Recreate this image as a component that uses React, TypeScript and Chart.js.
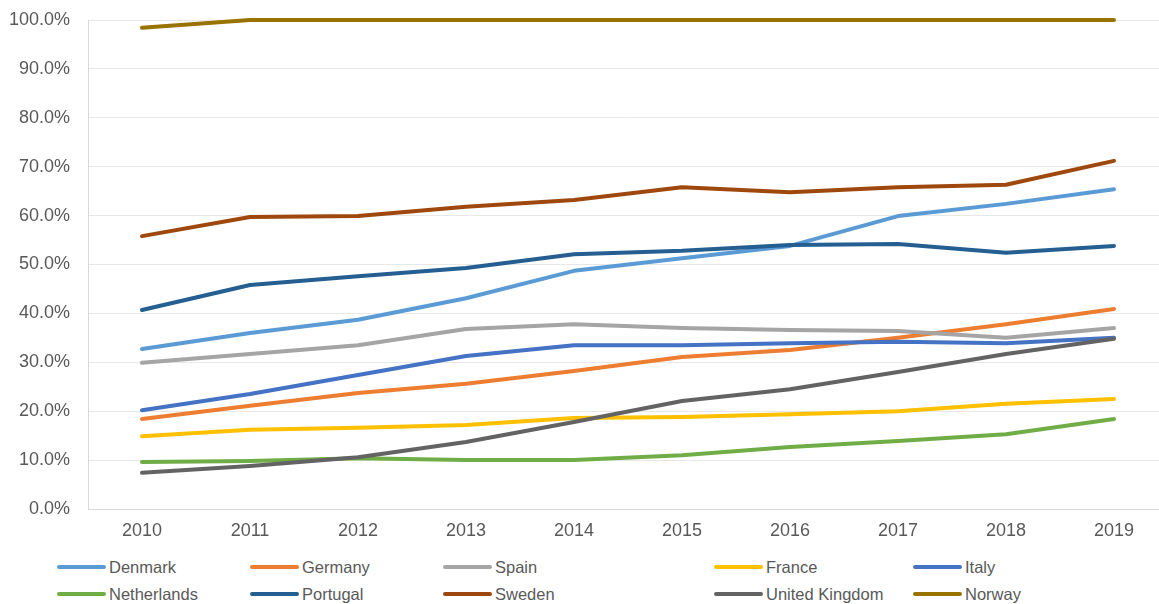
import React, { useEffect, useRef } from "react";
import { Chart, registerables } from "chart.js";

Chart.register(...registerables);

const years = ["2010", "2011", "2012", "2013", "2014", "2015", "2016", "2017", "2018", "2019"];

const denmark = [32.7, 36.0, 38.7, 43.1, 48.7, 51.3, 53.8, 59.9, 62.4, 65.4];
const germany = [18.4, 21.1, 23.7, 25.6, 28.2, 31.1, 32.5, 35.0, 37.8, 40.9];
const spain = [29.9, 31.7, 33.5, 36.8, 37.8, 37.0, 36.6, 36.4, 35.0, 37.0];
const france = [14.9, 16.2, 16.6, 17.2, 18.6, 18.8, 19.4, 20.0, 21.5, 22.5];
const italy = [20.2, 23.5, 27.4, 31.3, 33.5, 33.5, 33.9, 34.2, 33.9, 35.0];
const netherlands = [9.6, 9.8, 10.4, 10.0, 10.0, 11.0, 12.7, 13.9, 15.3, 18.4];
const portugal = [40.7, 45.8, 47.6, 49.3, 52.1, 52.8, 54.0, 54.2, 52.4, 53.8];
const sweden = [55.8, 59.7, 59.9, 61.8, 63.2, 65.8, 64.8, 65.8, 66.3, 71.2];
const unitedKingdom = [7.4, 8.8, 10.6, 13.7, 17.8, 22.1, 24.5, 28.0, 31.7, 34.8];
const norway = [98.4, 100, 100, 100, 100, 100, 100, 100, 100, 100];

const seriesNames = [
  "Denmark",
  "Germany",
  "Spain",
  "France",
  "Italy",
  "Netherlands",
  "Portugal",
  "Sweden",
  "United Kingdom",
  "Norway",
];
const seriesValues = [denmark, germany, spain, france, italy, netherlands, portugal, sweden, unitedKingdom, norway];
const seriesColors = [
  "#5B9BD5",
  "#ED7D31",
  "#A5A5A5",
  "#FFC000",
  "#4472C4",
  "#70AD47",
  "#255E91",
  "#9E480E",
  "#636363",
  "#997300",
];

const yTickMin = 0;
const yTickMax = 100;
const yTickStep = 10;

const FONT = "'Liberation Sans', Arial, sans-serif";
const TEXT_COLOR = "#595959";

const legendColumns = [57, 250, 443, 714, 913];
const legendRows = [557, 584];

export default function App() {
  const canvasRef = useRef<HTMLCanvasElement | null>(null);

  useEffect(() => {
    if (!canvasRef.current) return;
    const n = seriesNames.length;
    const chart = new Chart(canvasRef.current, {
      type: "line",
      data: {
        labels: years,
        datasets: seriesNames.map((name, i) => ({
          label: name,
          data: seriesValues[i],
          borderColor: seriesColors[i],
          backgroundColor: seriesColors[i],
          borderWidth: 4,
          pointRadius: 0,
          pointHoverRadius: 0,
          borderCapStyle: "round" as const,
          borderJoinStyle: "round" as const,
          tension: 0,
          fill: false,
          clip: false as any,
          order: n - i,
        })),
      },
      options: {
        responsive: false,
        animation: false,
        events: [],
        layout: { padding: { top: 20, right: 2, bottom: 0, left: 0 } },
        plugins: {
          legend: { display: false },
          tooltip: { enabled: false },
        },
        scales: {
          x: {
            offset: true,
            grid: { display: false, drawTicks: false },
            border: { display: true, color: "#D9D9D9", width: 1 },
            ticks: {
              color: TEXT_COLOR,
              font: { family: FONT, size: 18 },
              padding: 11,
              maxRotation: 0,
            },
            afterFit: (s: any) => {
              s.height = 36;
            },
          },
          y: {
            min: yTickMin,
            max: yTickMax,
            grid: {
              color: "#E8E8E8",
              lineWidth: 1,
              drawTicks: true,
              tickLength: 18,
              tickColor: "rgba(0,0,0,0)",
            },
            border: { display: true, color: "#D9D9D9", width: 1 },
            ticks: {
              stepSize: yTickStep,
              color: TEXT_COLOR,
              font: { family: FONT, size: 18 },
              padding: 0,
              callback: (v: any) => Number(v).toFixed(1) + "%",
            },
            afterFit: (s: any) => {
              s.width = 88;
            },
          },
        },
      },
    });
    return () => chart.destroy();
  }, []);

  return (
    <div
      style={{
        position: "fixed",
        left: 0,
        top: 0,
        width: 1159,
        height: 604,
        overflow: "hidden",
        background: "#FFFFFF",
      }}
    >
      <canvas ref={canvasRef} width={1170} height={545} style={{ display: "block" }} />
      {seriesNames.map((name, i) => {
        const col = i % 5;
        const row = Math.floor(i / 5);
        return (
          <div
            key={name}
            style={{
              position: "absolute",
              left: legendColumns[col],
              top: legendRows[row],
              height: 20,
              display: "flex",
              alignItems: "center",
              fontFamily: FONT,
              fontSize: 16.5,
              color: TEXT_COLOR,
              whiteSpace: "nowrap",
            }}
          >
            <span
              style={{
                display: "inline-block",
                width: 49,
                height: 4,
                borderRadius: 2,
                background: seriesColors[i],
                marginRight: 3,
              }}
            />
            <span>{name}</span>
          </div>
        );
      })}
    </div>
  );
}
